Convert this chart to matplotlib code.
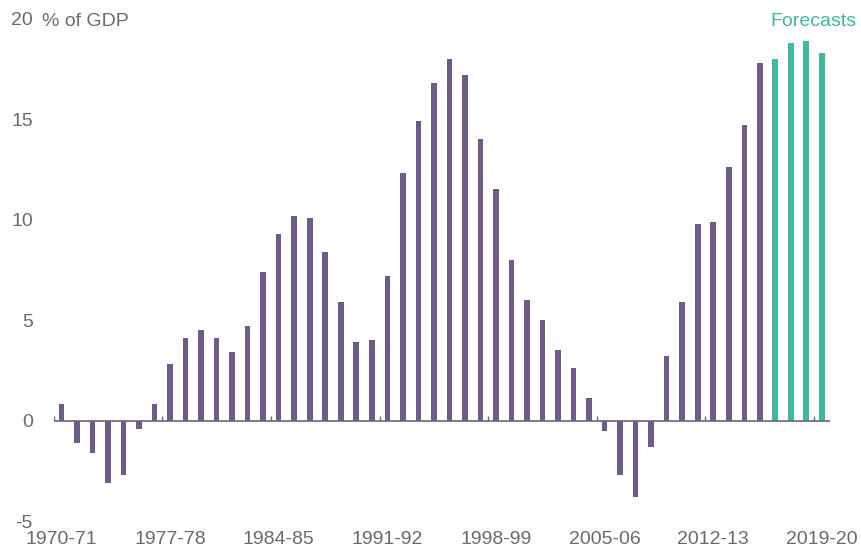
import numpy as np
import matplotlib
matplotlib.use("Agg")
import matplotlib.pyplot as plt

plt.rcParams["font.family"] = ["Liberation Sans", "DejaVu Sans"]

# budget balance, % of GDP, 1970-71 .. 2019-20
years = ["%d-%02d" % (y, (y + 1) % 100) for y in range(1970, 2020)]
actual = [0.8, -1.1, -1.6, -3.1, -2.7, -0.4, 0.8, 2.8, 4.1, 4.5,
          4.1, 3.4, 4.7, 7.4, 9.3, 10.2, 10.1, 8.4, 5.9, 3.9,
          4.0, 7.2, 12.3, 14.9, 16.8, 18.0, 17.2, 14.0, 11.5, 8.0,
          6.0, 5.0, 3.5, 2.6, 1.1, -0.5, -2.7, -3.8, -1.3, 3.2,
          5.9, 9.8, 9.9, 12.6, 14.7, 17.8]
forecast = [18.0, 18.8, 18.9, 18.3]
label_every = 7

purple = "#6d5c8a"
teal = "#41b6a0"
grey = "#6a6a6a"

fig = plt.figure(figsize=(8.61, 5.56), dpi=100)
ax = fig.add_axes([0.0623, 0.0629, 0.9013, 0.9035])

x_act = np.arange(len(actual))
x_fc = np.arange(len(actual), len(actual) + len(forecast))
ax.bar(x_act, actual, width=0.36, color=purple, zorder=2)
ax.bar(x_fc, forecast, width=0.38, color=teal, zorder=2)

n = len(years)
ax.set_xlim(-0.5, n - 0.5)
ax.set_ylim(-5, 20)

# zero line with little boundary ticks every 7 years
ax.axhline(0, color="#6e6480", lw=1.2, zorder=3)
bounds = np.arange(0, n, label_every) - 0.5
ax.vlines(bounds, 0, 0.25, color="#6e6480", lw=1, zorder=3)

ax.set_xticks(np.arange(0, n, label_every))
ax.set_xticklabels(years[::label_every])
ax.set_yticks([-5, 0, 5, 10, 15, 20])
ax.set_yticklabels(["-5", "0", "5", "10", "15", "20"])
ax.tick_params(axis="x", length=0, pad=7, labelsize=14, labelcolor=grey)
ax.tick_params(axis="y", length=0, pad=15, labelsize=14, labelcolor=grey)

for s in ax.spines.values():
    s.set_visible(False)

fig.text(42 / 861, 1 - 21 / 556, "% of GDP", fontsize=14, color=grey,
         ha="left", va="center")
fig.text(857 / 861, 1 - 21 / 556, "Forecasts", fontsize=14, color=teal,
         ha="right", va="center")

fig.savefig("out.png", dpi=100)
